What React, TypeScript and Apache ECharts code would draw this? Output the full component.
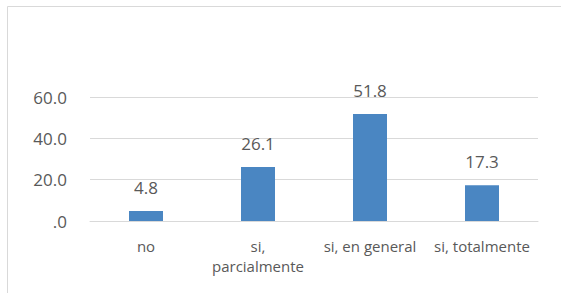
import React, { useEffect, useRef } from "react";
import * as echarts from "echarts";

const categories = ["no", "si,\nparcialmente", "si, en general", "si, totalmente"];
const values = [4.8, 26.1, 51.8, 17.3];
const yTicks = [0, 20, 40, 60];

export default function App() {
  const ref = useRef<HTMLDivElement>(null);
  useEffect(() => {
    if (!ref.current) return;
    const chart = echarts.init(ref.current, undefined, { renderer: "svg" });
    const font = "'Open Sans', 'Liberation Sans', sans-serif";
    chart.setOption({
      animation: false,
      backgroundColor: "#ffffff",
      graphic: [
        {
          type: "rect",
          shape: { x: 7.5, y: 6.5, width: 600, height: 400 },
          style: { fill: "none", stroke: "#d9d9d9", lineWidth: 1 },
          silent: true,
        },
      ],
      grid: { left: 90, right: 23, top: 97, bottom: 72, containLabel: false },
      xAxis: {
        type: "category",
        data: categories,
        axisLine: { show: true, lineStyle: { color: "#d9d9d9", width: 1 } },
        axisTick: { show: false },
        axisLabel: {
          color: "#595959",
          fontSize: 15,
          fontFamily: font,
          margin: 15,
          lineHeight: 20,
          interval: 0,
        },
      },
      yAxis: {
        type: "value",
        min: yTicks[0],
        max: yTicks[yTicks.length - 1],
        interval: 20,
        axisLine: { show: false },
        axisTick: { show: false },
        splitLine: { lineStyle: { color: "#d9d9d9", width: 1 } },
        axisLabel: {
          color: "#595959",
          fontSize: 17,
          fontFamily: font,
          margin: 23,
          formatter: (v: number) => (v === 0 ? ".0" : v.toFixed(1)),
        },
      },
      series: [
        {
          type: "bar",
          data: values,
          barWidth: 34,
          itemStyle: { color: "#4a86c2" },
          label: {
            show: true,
            position: "top",
            distance: 15,
            color: "#595959",
            fontSize: 17,
            fontFamily: font,
            formatter: (p: any) => Number(p.value).toFixed(1),
          },
        },
      ],
    });
    return () => chart.dispose();
  }, []);
  return (
    <div
      ref={ref}
      style={{ position: "fixed", left: 0, top: 0, width: 561, height: 293 }}
    />
  );
}
